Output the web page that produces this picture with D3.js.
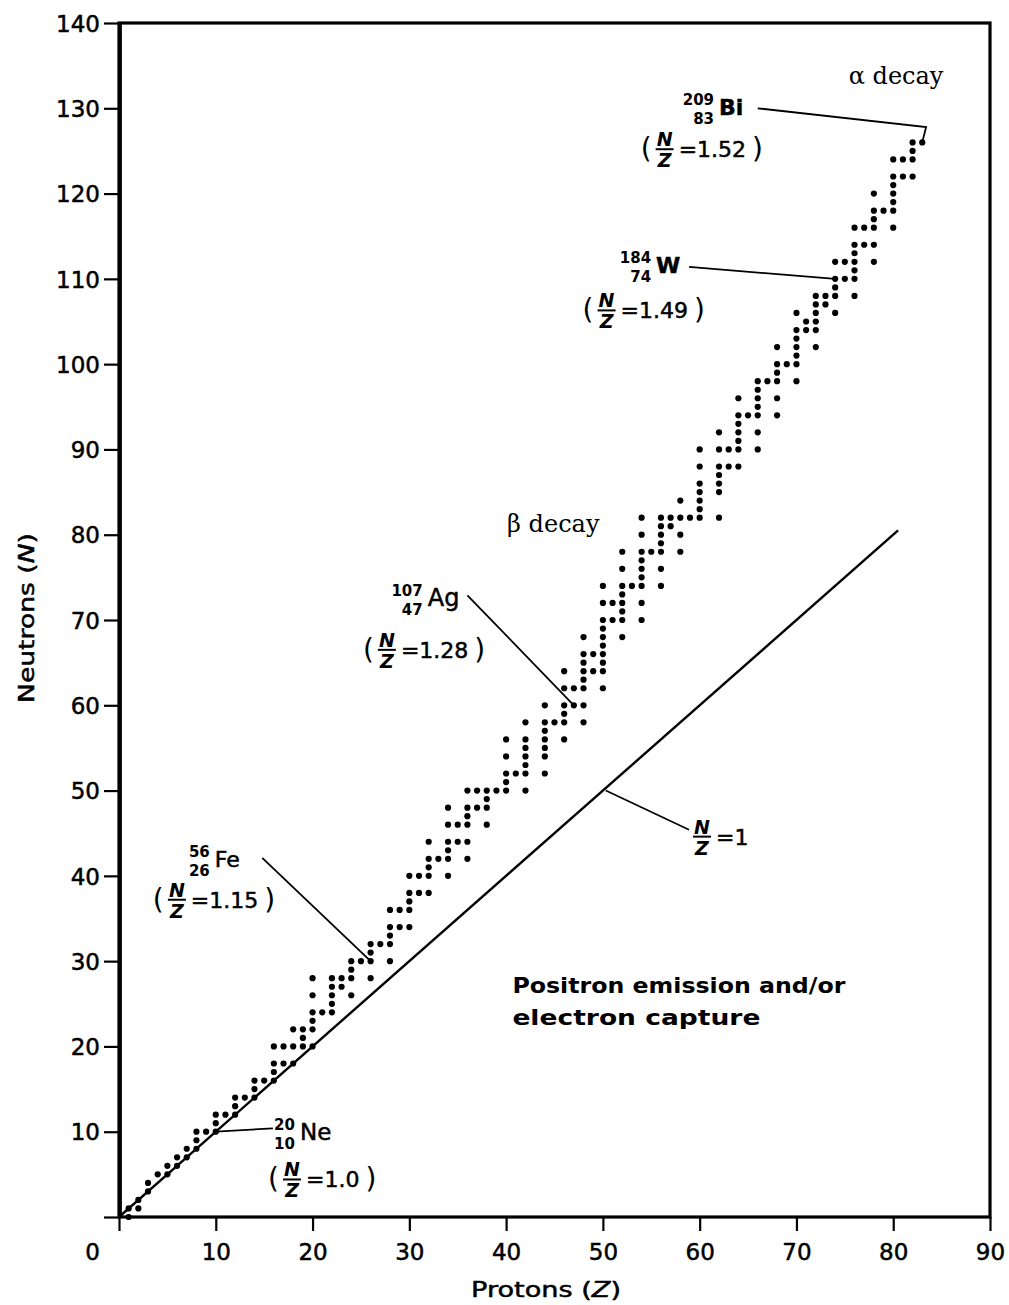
<!DOCTYPE html>
<html>
<head>
<meta charset="utf-8">
<script src="https://cdn.jsdelivr.net/npm/d3@7"></script>
<style>
  html, body { margin: 0; padding: 0; background: #fff; }
  svg { display: block; }
  text { fill: #000; }
  .heavy { stroke: #000; stroke-width: 0.5px; }
</style>
</head>
<body>
<svg id="chart" width="1009" height="1305"></svg>
<script>
// Stable nuclides: proton number Z and the neutron numbers N found at that Z
const protonNumbers = [
  1, 2, 3, 4, 5, 6, 7, 8, 9, 10, 11, 12, 13, 14, 15, 16, 17, 18, 19, 20,
  21, 22, 23, 24, 25, 26, 27, 28, 29, 30, 31, 32, 33, 34, 35, 36, 37, 38, 39, 40,
  41, 42, 44, 45, 46, 47, 48, 49, 50, 51, 52, 53, 54, 55, 56, 57, 58, 59, 60,
  62, 63, 64, 65, 66, 67, 68, 69, 70, 71, 72, 73, 74, 75, 76, 77, 78, 79, 80,
  81, 82, 83
];
const stableNeutrons = [
  [0, 1], [1, 2], [3, 4], [5], [5, 6], [6, 7], [7, 8], [8, 9, 10], [10], [10, 11, 12],
  [12], [12, 13, 14], [14], [14, 15, 16], [16], [16, 17, 18, 20], [18, 20], [18, 20, 22],
  [20, 21, 22], [20, 22, 23, 24, 26, 28],
  [24], [24, 25, 26, 27, 28], [27, 28], [26, 28, 29, 30], [30], [28, 30, 31, 32], [32],
  [30, 32, 33, 34, 36], [34, 36], [34, 36, 37, 38, 40], [38, 40], [38, 40, 41, 42, 44],
  [42], [40, 42, 43, 44, 46, 48], [44, 46], [42, 44, 46, 47, 48, 50], [48, 50],
  [46, 48, 49, 50], [50], [50, 51, 52, 54, 56],
  [52], [50, 52, 53, 54, 55, 56, 58], [52, 54, 55, 56, 57, 58, 60], [58],
  [56, 58, 59, 60, 62, 64], [60, 62], [58, 60, 62, 63, 64, 65, 66, 68], [64, 66],
  [62, 64, 65, 66, 67, 68, 69, 70, 72, 74], [70, 72], [68, 70, 71, 72, 73, 74, 76, 78],
  [74], [70, 72, 74, 75, 76, 77, 78, 80, 82], [78], [74, 76, 78, 79, 80, 81, 82],
  [81, 82], [78, 80, 82, 84], [82], [82, 83, 84, 85, 86, 88, 90],
  [82, 85, 86, 87, 88, 90, 92], [88, 90], [88, 90, 91, 92, 93, 94, 96], [94],
  [90, 92, 94, 95, 96, 97, 98], [98], [94, 96, 98, 99, 100, 102], [100],
  [98, 100, 101, 102, 103, 104, 106], [104, 105], [102, 104, 105, 106, 107, 108],
  [107, 108], [106, 108, 109, 110, 112], [110, 112], [108, 110, 111, 112, 113, 114, 116],
  [114, 116], [112, 114, 116, 117, 118, 120], [118], [116, 118, 119, 120, 121, 122, 124],
  [122, 124], [122, 124, 125, 126], [126]
];

// Axis ticks
const xTickValues = [0, 10, 20, 30, 40, 50, 60, 70, 80, 90];
const yTickValues = [0, 10, 20, 30, 40, 50, 60, 70, 80, 90, 100, 110, 120, 130, 140];

// Extent of the N = Z reference line (in Z)
const unityLineZ = [0, 80.5];

// Highlighted nuclides
const highlightSymbols = ["Bi", "W", "Ag", "Fe", "Ne"];
const highlightMass = [209, 184, 107, 56, 20];
const highlightZ = [83, 74, 47, 26, 10];
const highlightN = [126, 110, 60, 30, 10];
const highlightRatio = ["1.52", "1.49", "1.28", "1.15", "1.0"];

// ---------------------------------------------------------------
const svg = d3.select("#chart");
const SANS = "'DejaVu Sans', 'Liberation Sans', sans-serif";
const SERIF = "'DejaVu Serif', 'Liberation Serif', serif";

const x = d3.scaleLinear().domain([0, 90]).range([119, 990]);
const y = d3.scaleLinear().domain([0, 140]).range([1217, 23]);

svg.append("rect").attr("width", 1009).attr("height", 1305).attr("fill", "#fff");

// Frame
svg.append("rect")
  .attr("x", x(0)).attr("y", y(140))
  .attr("width", x(90) - x(0)).attr("height", y(0) - y(140))
  .attr("fill", "none").attr("stroke", "#000").attr("stroke-width", 3.2);
svg.append("line")
  .attr("x1", x(0) + 1).attr("x2", x(0) + 1).attr("y1", y(140)).attr("y2", y(0))
  .attr("stroke", "#000").attr("stroke-width", 3.8);

// Bottom axis
const xAxis = svg.append("g")
  .attr("transform", `translate(0,${y(0)})`)
  .call(d3.axisBottom(x).tickValues(xTickValues).tickSize(14).tickFormat(d3.format("d")));
xAxis.select(".domain").remove();
xAxis.selectAll(".tick line").attr("stroke", "#000").attr("stroke-width", 2.2);
xAxis.selectAll(".tick text")
  .attr("class", "heavy")
  .attr("y", 43).attr("dy", 0)
  .attr("dx", d => d === 0 ? -27 : 0)
  .attr("font-family", SANS).attr("font-size", 23).attr("fill", "#000");

// Left axis
const yAxis = svg.append("g")
  .attr("transform", `translate(${x(0)},0)`)
  .call(d3.axisLeft(y).tickValues(yTickValues).tickSize(15).tickFormat(d3.format("d")));
yAxis.select(".domain").remove();
yAxis.selectAll(".tick line").attr("stroke", "#000").attr("stroke-width", 2.2);
yAxis.selectAll(".tick text")
  .attr("class", "heavy")
  .attr("x", -19).attr("dy", "0.36em")
  .attr("font-family", SANS).attr("font-size", 23).attr("fill", "#000")
  .text(d => d === 0 ? "" : d);

// Axis titles
svg.append("text")
  .attr("class", "heavy")
  .attr("x", 546).attr("y", 1297)
  .attr("text-anchor", "middle")
  .attr("font-family", SANS).attr("font-size", 22)
  .attr("textLength", 150).attr("lengthAdjust", "spacingAndGlyphs")
  .html("Protons (<tspan font-style='italic'>Z</tspan>)");
svg.append("text")
  .attr("class", "heavy")
  .attr("transform", "translate(34,618) rotate(-90)")
  .attr("text-anchor", "middle")
  .attr("font-family", SANS).attr("font-size", 22)
  .attr("textLength", 170).attr("lengthAdjust", "spacingAndGlyphs")
  .html("Neutrons (<tspan font-style='italic'>N</tspan>)");

// N = Z line
svg.append("line")
  .attr("x1", x(unityLineZ[0])).attr("y1", y(unityLineZ[0]))
  .attr("x2", x(unityLineZ[1])).attr("y2", y(unityLineZ[1]))
  .attr("stroke", "#000").attr("stroke-width", 2.4);

// Stable nuclide dots
const nuclides = protonNumbers.flatMap((z, i) => stableNeutrons[i].map(n => ({ z, n })));
svg.append("g").selectAll("circle")
  .data(nuclides)
  .join("circle")
  .attr("cx", d => x(d.z))
  .attr("cy", d => y(d.n))
  .attr("r", 3.1)
  .attr("fill", "#000");

// ---------------------------------------------------------------
// Annotations (positions given in Z/N units so they follow the scales)
function ratioLabel(g, px, py, value, parens) {
  const grp = g.append("g").attr("transform", `translate(${px},${py})`);
  let fc = 12;
  if (parens) {
    grp.append("text").attr("x", 0).attr("y", 9)
      .attr("font-family", SANS).attr("font-size", 28).text("(");
    fc = 24;
  }
  grp.append("text").attr("x", fc).attr("y", -3).attr("text-anchor", "middle")
    .attr("font-family", SANS).attr("font-style", "italic").attr("font-weight", "bold")
    .attr("font-size", 19).text("N");
  grp.append("line").attr("x1", fc - 9).attr("x2", fc + 9).attr("y1", 0).attr("y2", 0)
    .attr("stroke", "#000").attr("stroke-width", 2);
  grp.append("text").attr("x", fc).attr("y", 18).attr("text-anchor", "middle")
    .attr("font-family", SANS).attr("font-style", "italic").attr("font-weight", "bold")
    .attr("font-size", 19).text("Z");
  const eq = grp.append("text").attr("class", "heavy").attr("x", fc + 14).attr("y", 8)
    .attr("font-family", SANS).attr("font-size", 22).text("=" + value);
  if (parens) {
    const w = eq.node().getComputedTextLength();
    grp.append("text").attr("x", fc + 14 + w + 6).attr("y", 9)
      .attr("font-family", SANS).attr("font-size", 28).text(")");
  }
}

// Label anchors, in chart units: symbol baseline-left, ratio "(" left/bar, leader start
const labelSymbolAt = [[62.0, 129.2], [55.5, 110.7], [31.9, 71.6], [9.9, 41.0], [18.7, 9.0]];
const labelRatioAt = [[53.9, 125.2], [47.9, 106.3], [25.2, 66.5], [3.5, 37.2], [15.4, 4.4]];
const leaderFrom = [[66.0, 130.0], [58.9, 111.4], [36.0, 72.9], [14.8, 42.1], [15.9, 10.4]];
const symbolSize = [22, 22, 24, 22, 23];
const symbolWeight = ["bold", "bold", "normal", "normal", "normal"];

const ann = svg.append("g");
highlightSymbols.forEach((sym, i) => {
  const [sz, sn] = labelSymbolAt[i];
  const sx = x(sz), sy = y(sn);
  ann.append("text").attr("class", "heavy").attr("x", sx).attr("y", sy)
    .attr("font-family", SANS).attr("font-size", symbolSize[i])
    .attr("font-weight", symbolWeight[i]).text(sym);
  ann.append("text").attr("x", sx - 5).attr("y", sy - 10).attr("text-anchor", "end")
    .attr("font-family", SANS).attr("font-size", 15).attr("font-weight", "bold")
    .text(highlightMass[i]);
  ann.append("text").attr("x", sx - 5).attr("y", sy + 9).attr("text-anchor", "end")
    .attr("font-family", SANS).attr("font-size", 15).attr("font-weight", "bold")
    .text(highlightZ[i]);

  const [rz, rn] = labelRatioAt[i];
  ratioLabel(ann, x(rz), y(rn), highlightRatio[i], true);

  const [lz, ln] = leaderFrom[i];
  const pts = [[lz, ln]];
  if (sym === "Bi") pts.push([83.4, 127.8]);   // elbow above the bismuth point
  pts.push([highlightZ[i], highlightN[i]]);
  ann.append("path")
    .attr("d", d3.line().x(p => x(p[0])).y(p => y(p[1]))(pts))
    .attr("fill", "none").attr("stroke", "#000").attr("stroke-width", 1.8);
});

// N/Z = 1 label on the reference line
ratioLabel(ann, x(59.0), y(44.6), "1", false);
ann.append("line")
  .attr("x1", x(58.9)).attr("y1", y(45.4))
  .attr("x2", x(50.3)).attr("y2", y(50.0))
  .attr("stroke", "#000").attr("stroke-width", 1.6);

// Decay-mode labels
ann.append("text").attr("x", x(75.4)).attr("y", y(132.9))
  .attr("font-family", SERIF).attr("font-size", 24).text("\u03B1 decay");
ann.append("text").attr("x", x(40.1)).attr("y", y(80.3))
  .attr("font-family", SERIF).attr("font-size", 24).text("\u03B2 decay");

// Region below the line
ann.append("text").attr("x", x(40.65)).attr("y", y(26.3))
  .attr("font-family", SANS).attr("font-size", 22).attr("font-weight", "bold")
  .attr("textLength", 333).attr("lengthAdjust", "spacingAndGlyphs")
  .text("Positron emission and/or");
ann.append("text").attr("x", x(40.65)).attr("y", y(22.5))
  .attr("font-family", SANS).attr("font-size", 22).attr("font-weight", "bold")
  .attr("textLength", 248).attr("lengthAdjust", "spacingAndGlyphs")
  .text("electron capture");
</script>
</body>
</html>
